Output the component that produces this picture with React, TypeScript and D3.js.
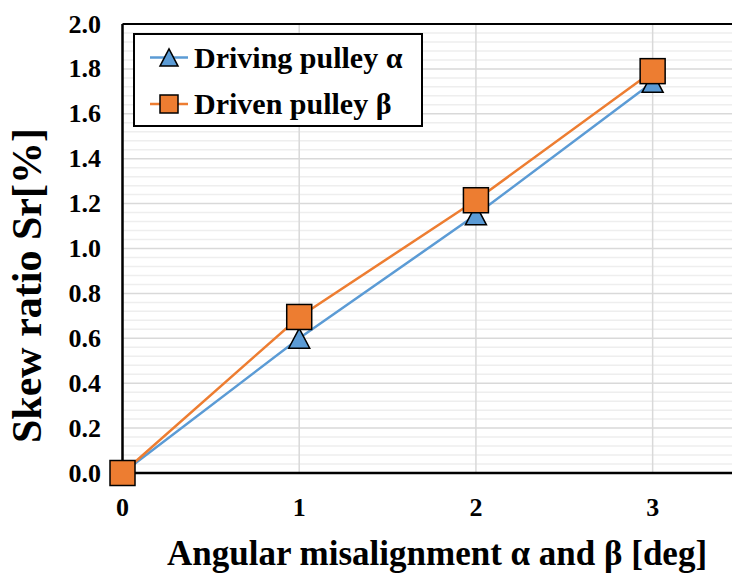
import React from "react";
import * as d3 from "d3";

const angles = [0, 1, 2, 3];
const drivingAlpha = [0, 0.6, 1.15, 1.74];
const drivenBeta = [0, 0.695, 1.215, 1.79];
const xTicks = [0, 1, 2, 3];
const yTicks = [0, 0.2, 0.4, 0.6, 0.8, 1.0, 1.2, 1.4, 1.6, 1.8, 2.0];
const seriesNames = ["Driving pulley \u03b1", "Driven pulley \u03b2"];
const seriesColors = ["#5B9BD5", "#ED7D31"];

const W = 732;
const H = 574;
const FONT = "'Liberation Serif', 'Times New Roman', serif";

export default function App() {
  const x = d3.scaleLinear().domain([0, 3.5]).range([122.5, 741]);
  const y = d3.scaleLinear().domain([0, 2]).range([473, 24]);
  const minorTicks = d3.range(0, 2.0001, 0.04).filter((v) => Math.abs(Math.round(v * 5) - v * 5) > 1e-6);
  const line = d3
    .line<number>()
    .x((_, i) => x(angles[i]))
    .y((d) => y(d));

  const triPath = (size: number) => {
    const h = size * 0.95;
    return `M0,${-h / 2}L${size / 2},${h / 2}L${-size / 2},${h / 2}Z`;
  };

  return (
    <svg
      width={W}
      height={H}
      style={{ position: "absolute", left: 0, top: 0, background: "#fff" }}
      fontFamily={FONT}
    >
      <rect x={0} y={0} width={W} height={H} fill="#fff" />
      {/* minor gridlines */}
      {minorTicks.map((v, i) => (
        <line key={"mn" + i} x1={x(0)} x2={x(3.5)} y1={y(v)} y2={y(v)} stroke="#eeeeee" strokeWidth={1.5} />
      ))}
      {/* major gridlines */}
      {yTicks.map((v, i) => (
        <line key={"mj" + i} x1={x(0)} x2={x(3.5)} y1={y(v)} y2={y(v)} stroke="#d9d9d9" strokeWidth={1.5} />
      ))}
      {xTicks.map((v, i) => (
        <line key={"vx" + i} x1={x(v)} x2={x(v)} y1={y(0)} y2={y(2)} stroke="#d9d9d9" strokeWidth={1.5} />
      ))}
      {/* plot border */}
      <line x1={x(0)} x2={x(3.5)} y1={y(2)} y2={y(2)} stroke="#000" strokeWidth={2} />
      <line x1={x(0)} x2={x(0)} y1={y(0)} y2={y(2)} stroke="#000" strokeWidth={2.5} />
      <line x1={x(0)} x2={x(3.5)} y1={y(0)} y2={y(0)} stroke="#000" strokeWidth={2.5} />

      {/* y tick labels */}
      {yTicks.map((v, i) => (
        <text key={"yt" + i} x={101} y={y(v) + 8.5} textAnchor="end" fontSize={26} fontWeight="bold">
          {v.toFixed(1)}
        </text>
      ))}
      {/* x tick labels */}
      {xTicks.map((v, i) => (
        <text key={"xt" + i} x={x(v)} y={516} textAnchor="middle" fontSize={26} fontWeight="bold">
          {v}
        </text>
      ))}

      {/* series lines */}
      <path d={line(drivingAlpha) || ""} fill="none" stroke={seriesColors[0]} strokeWidth={2.5} />
      <path d={line(drivenBeta) || ""} fill="none" stroke={seriesColors[1]} strokeWidth={2.5} />
      {/* markers */}
      {drivingAlpha.map((v, i) => (
        <path
          key={"ta" + i}
          d={triPath(21)}
          transform={`translate(${x(angles[i])},${y(v)})`}
          fill={seriesColors[0]}
          stroke="#000"
          strokeWidth={1.5}
        />
      ))}
      {drivenBeta.map((v, i) => (
        <rect
          key={"sb" + i}
          x={x(angles[i]) - 12.5}
          y={y(v) - 12.5}
          width={25}
          height={25}
          fill={seriesColors[1]}
          stroke="#000"
          strokeWidth={1.5}
        />
      ))}

      {/* legend */}
      <rect x={134} y={34} width={288} height={92} fill="#fff" stroke="#000" strokeWidth={2} />
      <line x1={150} x2={188} y1={57.5} y2={57.5} stroke={seriesColors[0]} strokeWidth={2.5} />
      <path d={triPath(18)} transform="translate(169,57.5)" fill={seriesColors[0]} stroke="#000" strokeWidth={1.5} />
      <text x={194} y={68} fontSize={30} fontWeight="bold">
        {seriesNames[0]}
      </text>
      <line x1={150} x2={188} y1={104} y2={104} stroke={seriesColors[1]} strokeWidth={2.5} />
      <rect x={160} y={95} width={18} height={18} fill={seriesColors[1]} stroke="#000" strokeWidth={1.5} />
      <text x={194} y={114} fontSize={30} fontWeight="bold">
        {seriesNames[1]}
      </text>

      {/* axis titles */}
      <text x={167} y={565} textAnchor="start" fontSize={35} fontWeight="bold">
        Angular misalignment {"\u03b1"} and {"\u03b2"} [deg]
      </text>
      <text transform="translate(41,443) rotate(-90)" textAnchor="start" fontSize={42} fontWeight="bold">
        Skew ratio Sr[%]
      </text>
    </svg>
  );
}
